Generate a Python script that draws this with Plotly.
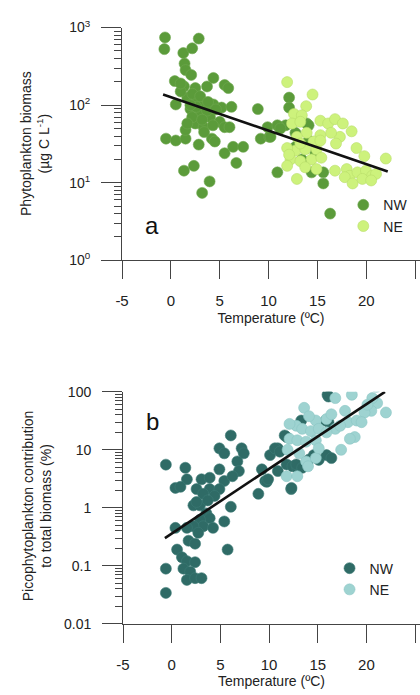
import plotly.graph_objects as go

# ---------------- Panel a: phytoplankton biomass vs temperature ----------------
a_nw_temp = [-0.6, -0.67, 2.85, 1.27, 2.18, 1.4, 1.5, 2.08, 0.4, 1.34, 2.5, 3.7, 4.35, 5.5, 5.87,
             0.5, 1.68, 2.7, 3.35, 4.35, 5.19, 2.0, 3.0, 4.0, 5.0, 2.5, 3.35, 5.5, 6.0, 8.9,
             -0.5, 0.5, 1.5, 1.5, 2.85, 4.2, 4.5, 5.5, 6.37, 7.4, 6.7, 1.34, 2.35, 3.96, 3.2,
             9.2, 9.9, 2.18, 3.7, 1.68, 10.07, 10.9, 12.1, 12.1, 16.3, 15.6, 14.4, 15.6, 11.75,
             11.1, 12.75, 13.4, 13.9, 14.8, 13.4, 14.1, 12.75, 10.9, 11.2, 10.2, 14.1,
             1.0, 2.2, 3.0, 2.6, 3.8, 4.6, 3.2, 4.3, 2.0, 1.0, 3.4, 6.2]
a_nw_bio = [745, 527, 720, 470, 540, 343, 283, 245, 204, 175, 166, 174, 224, 182, 166,
            102, 125, 119, 102, 102, 93, 89, 77, 70, 61, 58, 52, 52, 52, 89,
            37, 35, 37, 48, 31, 37, 34, 24, 29, 29, 18, 14.3, 16.5, 10.4, 7.4,
            37, 52, 70, 85, 58, 39, 13.6, 125, 93, 4.0, 9.8, 13.6, 13.6, 55,
            52, 44, 63, 58, 24, 20, 35, 29, 55, 50, 39, 55,
            150, 140, 130, 95, 110, 88, 65, 55, 100, 190, 45, 95]

a_ne_temp = [11.9, 14.5, 13.85, 12.6, 13.4, 12.4, 13.25, 15.3, 16.1, 16.8, 17.6, 18.5, 17.3,
             15.3, 13.9, 12.9, 16.9, 19.0, 19.8, 22.0, 12.75, 13.75, 14.9, 12.25, 13.25, 14.4,
             15.4, 11.9, 13.75, 14.9, 12.9, 16.8, 18.0, 18.3, 17.8, 19.1, 19.97, 20.6, 21.0,
             18.6, 19.6, 20.5, 16.4, 14.6, 11.9, 12.1, 15.3, 13.25]
a_ne_bio = [198, 137, 97, 77, 74, 58, 61, 63, 58, 66, 58, 46, 39,
            41, 44, 39, 32, 28, 22, 20.5, 26, 27, 27, 20, 19, 20,
            21, 16.5, 15.8, 15, 11.2, 14.3, 15, 12.3, 11.8, 13.6, 14.3, 12.3, 13,
            9.8, 11.2, 10.7, 44, 34, 28, 23, 35, 32]

a_fit_temp = [-0.8, 22.2]
a_fit_bio = [137, 14]

# ---------------- Panel b: picophytoplankton contribution ----------------
b_nw_temp = [6.07, 4.9, 5.4, 7.18, 7.4, 6.74, -0.6, 1.4, 4.9, 6.9, 1.56, 3.06, 3.9, 5.4, 6.24,
             0.38, 0.9, 2.55, 3.9, 4.9, 3.23, 4.4, 2.23, 2.9, 2.55, 3.7, 6.07, 3.56, 3.9, 2.9,
             5.4, 3.23, 4.24, 2.23, 0.38, 1.56, 2.73, 1.73, 2.4, 0.55, 5.74, 1.05, 1.56, 2.4,
             -0.6, 1.2, 1.9, 1.56, 2.4, 3.06, -0.6, 8.9, 9.6, 9.26, 10.1, 9.76, 10.9, 10.9,
             11.8, 12.27, 11.8, 16.1, 12.4, 12.9, 14.6, 15.1, 13.3, 16.1, 16.0, 15.8, 11.6,
             10.6, 11.1, 12.8, 15.9, 16.4, 12.3, 9.9, 14.1, 13.4]
b_nw_pct = [17.7, 10.6, 8.7, 10.6, 8.7, 6.3, 5.55, 4.9, 4.6, 4.3, 3.1, 3.1, 3.3, 2.9, 3.5,
            2.2, 2.3, 2.1, 2.1, 2.1, 1.74, 1.6, 1.1, 1.1, 1.26, 1.34, 1.04, 0.80, 0.66, 0.62,
            0.58, 0.48, 0.45, 0.48, 0.45, 0.45, 0.37, 0.27, 0.24, 0.19, 0.19, 0.14, 0.12, 0.115,
            0.089, 0.089, 0.079, 0.057, 0.061, 0.061, 0.034, 1.74, 2.9, 4.6, 8.1, 2.8, 10.6, 4.3,
            5.6, 2.1, 16.6, 83, 5.2, 4.9, 8.1, 6.7, 32, 30, 89, 32, 17.7,
            10.6, 9.3, 5.6, 8.1, 7.2, 2.2, 3.1, 6.8, 4.9]

b_ne_temp = [21.0, 18.5, 16.8, 22.0, 21.1, 20.5, 19.8, 17.8, 13.6, 14.8, 15.9, 12.8, 12.1, 13.4,
             14.3, 15.1, 16.8, 18.1, 19.0, 19.5, 18.8, 18.3, 17.4, 12.1, 12.9, 13.8, 14.8, 15.9,
             11.9, 13.8, 14.8, 11.8, 12.9, 14.0, 13.1, 15.1, 17.3, 16.4, 20.6, 20.1, 14.1]
b_ne_pct = [122, 89, 78, 44, 64, 47, 44, 47, 53, 32, 34, 26, 28, 23,
            21, 23, 23, 30, 32, 30, 16.6, 15.5, 10, 15.5, 14.6, 13.8, 14.6, 20,
            10, 6.3, 7.2, 3.5, 3.5, 5.2, 8.7, 10.6, 26, 41, 78, 60, 38]

b_fit_temp = [-0.7, 21.9]
b_fit_pct = [0.30, 100]

x_ticks = [-5, 0, 5, 10, 15, 20, 25]
x_ticktext = ["-5", "0", "5", "10", "15", "20", "25"]
a_yticks = [1, 10, 100, 1000]
a_yticktext = ["10<sup>0</sup>", "10<sup>1</sup>", "10<sup>2</sup>", "10<sup>3</sup>"]
b_yticks = [0.01, 0.1, 1, 10, 100]
b_yticktext = ["0.01", "0.1", "1", "10", "100"]

a_minor = [m * 10 ** e for e in range(0, 3) for m in range(2, 10)]
b_minor = [m * 10 ** e for e in range(-2, 2) for m in range(2, 10)]

FONT = "Liberation Sans, Arial, sans-serif"
C_NW_A, C_NE_A = "#5b9b3a", "#cdf27c"
C_NW_B, C_NE_B = "#2f6b66", "#9ed3d1"
AX = "#444444"
TXT = "#222222"

fig = go.Figure()

def pts(x, y, color, edge, name, xa, ya, leg):
    fig.add_trace(go.Scatter(
        x=x, y=y, mode="markers", name=name, xaxis=xa, yaxis=ya, legend=leg,
        marker=dict(size=11, color=color, line=dict(width=0.6, color=edge))))

pts(a_nw_temp, a_nw_bio, C_NW_A, "#6fa84f", "NW", "x", "y", "legend")
pts(a_ne_temp, a_ne_bio, C_NE_A, "#b9de6a", "NE", "x", "y", "legend")
fig.add_trace(go.Scatter(x=a_fit_temp, y=a_fit_bio, mode="lines", xaxis="x", yaxis="y",
                         line=dict(color="#111111", width=2.6), showlegend=False))

pts(b_nw_temp, b_nw_pct, C_NW_B, "#3d7a75", "NW", "x2", "y2", "legend2")
pts(b_ne_temp, b_ne_pct, C_NE_B, "#8cc6c4", "NE", "x2", "y2", "legend2")
fig.add_trace(go.Scatter(x=b_fit_temp, y=b_fit_pct, mode="lines", xaxis="x2", yaxis="y2",
                         line=dict(color="#111111", width=2.6), showlegend=False))

W, H = 420, 695

def xaxis(dom_left, anchor, standoff):
    return dict(domain=[dom_left / W, 1.0], range=[-5, 25.5], anchor=anchor,
                tickmode="array", tickvals=x_ticks, ticktext=x_ticktext,
                ticks="outside", ticklen=18, tickcolor=AX, tickwidth=1,
                ticklabelstandoff=standoff,
                showline=True, linecolor=AX, linewidth=1, showgrid=False, zeroline=False,
                tickfont=dict(size=15, color=TXT, family=FONT),
                title=dict(text="Temperature (ºC)", font=dict(size=14, color=TXT, family=FONT),
                           standoff=4))

def yaxis(dom, rng, tv, tt, minor, anchor):
    return dict(domain=dom, type="log", range=rng, anchor=anchor,
                tickmode="array", tickvals=tv, ticktext=tt,
                ticks="outside", ticklen=20, tickcolor=AX, tickwidth=1, ticklabelstandoff=8,
                showline=True, linecolor=AX, linewidth=1, showgrid=False, zeroline=False,
                tickfont=dict(size=14, color=TXT, family=FONT),
                minor=dict(tickvals=minor, ticks="outside", ticklen=7, tickcolor=AX, tickwidth=1,
                           showgrid=False))

fig.update_layout(
    width=W, height=H, margin=dict(l=0, r=0, t=0, b=0),
    paper_bgcolor="white", plot_bgcolor="white",
    font=dict(family=FONT, color=TXT),
    xaxis=xaxis(117, "y", 9),
    yaxis=yaxis([(H - 257) / H, (H - 18) / H], [0, 3], a_yticks, a_yticktext, a_minor, "x"),
    xaxis2=xaxis(118, "y2", 9),
    yaxis2=yaxis([(H - 630) / H, (H - 392) / H], [-2, 2], b_yticks, b_yticktext, b_minor, "x2"),
    legend=dict(x=342 / W, y=(H - 184) / H, xanchor="left", yanchor="top",
                bgcolor="rgba(0,0,0,0)", font=dict(size=14, family=FONT, color=TXT),
                tracegroupgap=0),
    legend2=dict(x=328 / W, y=(H - 557) / H, xanchor="left", yanchor="top",
                 bgcolor="rgba(0,0,0,0)", font=dict(size=14, family=FONT, color=TXT),
                 tracegroupgap=0),
    showlegend=True,
)

annots = [
    dict(text="Phytoplankton biomass<br>(µg C L<sup>-1</sup>)", x=29 / W, y=(H - 137) / H,
         xref="paper", yref="paper", xanchor="center", yanchor="middle",
         textangle=-90, showarrow=False, font=dict(size=14, family=FONT, color=TXT)),
    dict(text="Picophytoplankton contribution<br>to total biomass (%)", x=30 / W, y=(H - 509) / H,
         xref="paper", yref="paper", xanchor="center", yanchor="middle",
         textangle=-90, showarrow=False, font=dict(size=14, family=FONT, color=TXT)),
    dict(text="a", x=0.102, y=0.15, xref="x domain", yref="y domain", showarrow=False,
         xanchor="center", yanchor="middle", font=dict(size=24, family=FONT, color="#111111")),
    dict(text="b", x=0.099, y=0.874, xref="x2 domain", yref="y2 domain", showarrow=False,
         xanchor="center", yanchor="middle", font=dict(size=24, family=FONT, color="#111111")),
]
fig.update_layout(annotations=annots)

fig.write_html("out.html")
